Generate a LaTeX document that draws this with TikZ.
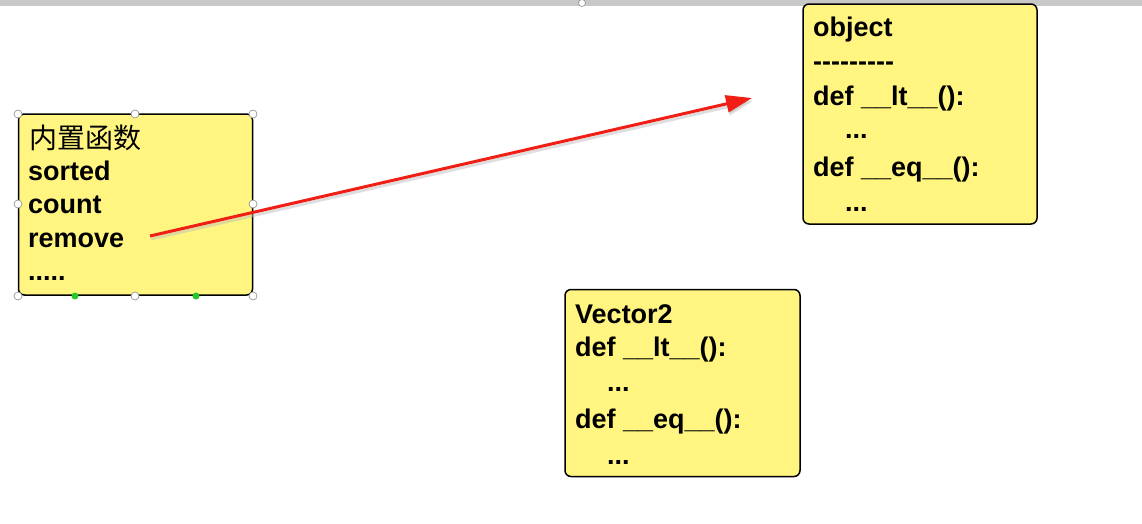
\documentclass[tikz,border=0pt]{standalone}
\usepackage{fontspec}
\newfontfamily\lsans{Liberation Sans}
\newfontfamily\cjk{Noto Sans CJK SC}
\usetikzlibrary{arrows.meta}
\definecolor{boxyellow}{RGB}{255,245,128}
\definecolor{bargray}{RGB}{200,200,200}
\definecolor{arrowred}{RGB}{240,30,20}
\definecolor{handlegray}{RGB}{150,150,150}
\definecolor{handlegreen}{RGB}{40,200,40}
\tikzset{
  card/.style={draw=black, line width=1.5pt, fill=boxyellow, rounded corners=6pt, inner sep=0pt},
  txt/.style={anchor=base west, inner sep=0pt, font=\lsans\bfseries\fontsize{27}{27}\selectfont},
  cntxt/.style={anchor=base west, inner sep=0pt, font=\cjk\fontsize{28}{28}\selectfont},
  handle/.style={circle, draw=handlegray, fill=white, line width=0.7pt, minimum size=8pt, inner sep=0pt},
  ghandle/.style={circle, fill=handlegreen, minimum size=7pt, inner sep=0pt},
  redarrow/.style={draw=arrowred, line width=3pt, -{Triangle[length=26pt,width=17pt]}},
  shadowarrow/.style={draw=black!25, opacity=0.5, line width=3pt, -{Triangle[length=26pt,width=17pt]}}
}
\begin{document}
\begin{tikzpicture}[x=1pt,y=-1pt]
\useasboundingbox (0,0) rectangle (1142,523);
\fill[white] (0,0) rectangle (1142,523);
\fill[bargray] (0,0) rectangle (1142,6);
\node[handle, minimum size=7pt] (tophandle) at (582,3) {};

% boxes
\node[card, minimum width=234pt, minimum height=181pt] (builtin) at (135.5,204.5) {};
\node[card, minimum width=234pt, minimum height=220pt] (object) at (920,114) {};
\node[card, minimum width=235pt, minimum height=187pt] (vector) at (682.5,383) {};

% builtin text
\node[cntxt] (cn) at (29,148) {内置函数};
\node[txt] (sorted) at (28,180) {sorted};
\node[txt] (count) at (28,213) {count};
\node[txt] (remove) at (28,247) {remove};
\node[txt] (more) at (28,280) {.....};

% object text
\node[txt] (objname) at (813,36) {object};
\node[txt] (objsep) at (813,70) {---------};
\node[txt] (objlt) at (813,105) {def \_\_lt\_\_():};
\node[txt] (objltb) at (845,138) {...};
\node[txt] (objeq) at (813,176) {def \_\_eq\_\_():};
\node[txt] (objeqb) at (845,211) {...};

% vector text
\node[txt] (vecname) at (575,323) {Vector2};
\node[txt] (veclt) at (575,356) {def \_\_lt\_\_():};
\node[txt] (vecltb) at (607,391) {...};
\node[txt] (veceq) at (575,428) {def \_\_eq\_\_():};
\node[txt] (veceqb) at (607,464) {...};

% selection handles
\foreach \p/\n in {{(18,114)}/h1,{(135,114)}/h2,{(253,114)}/h3,{(18,204)}/h4,{(253,204)}/h5,{(18,296)}/h6,{(135,296)}/h7,{(253,296)}/h8}
  \node[handle] (\n) at \p {};
\node[ghandle] (g1) at (75,296) {};
\node[ghandle] (g2) at (196,296) {};

% arrow
\coordinate (arrowstart) at (150,236);
\coordinate (arrowend) at (752,98);
\coordinate (shstart) at (151,239);
\coordinate (shend) at (753,101);
\draw[shadowarrow] (shstart) -- (shend);
\draw[redarrow] (arrowstart) -- (arrowend);
\end{tikzpicture}
\end{document}
